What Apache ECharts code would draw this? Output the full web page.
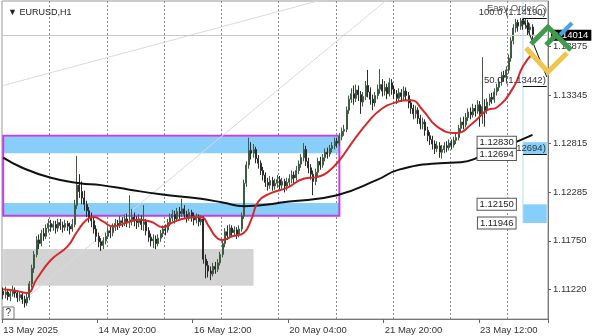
<!DOCTYPE html>
<html><head><meta charset="utf-8">
<script src="https://cdn.jsdelivr.net/npm/echarts@6/dist/echarts.min.js"></script>
<style>html,body{margin:0;padding:0;background:#fff}#c{width:598px;height:336px}</style>
</head><body><div id="c"></div>
<script>
// [open, close, low, high] per H1 bar, 13 May 2025 04:00 onward
const candles = [
[1.1120,1.1116,1.1111,1.1124],[1.1116,1.1119,1.1112,1.1125],[1.1119,1.1114,1.1110,1.1122],[1.1114,1.1117,1.1109,1.1121],
[1.1117,1.1121,1.1114,1.1126],[1.1121,1.1118,1.1113,1.1124],[1.1118,1.1113,1.1108,1.1121],[1.1113,1.1116,1.1109,1.1120],
[1.1116,1.1111,1.1106,1.1119],[1.1111,1.1107,1.1102,1.1115],[1.1107,1.1113,1.1104,1.1117],[1.1113,1.1128,1.1110,1.1131],
[1.1128,1.1145,1.1124,1.1149],[1.1145,1.1160,1.1140,1.1164],[1.1160,1.1176,1.1157,1.1180],[1.1176,1.1172,1.1166,1.1182],
[1.1172,1.1183,1.1169,1.1187],[1.1183,1.1180,1.1175,1.1189],[1.1180,1.1189,1.1177,1.1193],[1.1189,1.1194,1.1184,1.1199],
[1.1194,1.1190,1.1185,1.1198],[1.1190,1.1193,1.1186,1.1197],[1.1193,1.1189,1.1183,1.1197],[1.1189,1.1195,1.1185,1.1199],
[1.1195,1.1192,1.1187,1.1199],[1.1192,1.1190,1.1184,1.1196],[1.1190,1.1194,1.1186,1.1198],[1.1194,1.1191,1.1186,1.1197],
[1.1191,1.1188,1.1182,1.1195],[1.1188,1.1193,1.1185,1.1199],[1.1193,1.1214,1.1190,1.1220],[1.1214,1.1236,1.1210,1.1268],
[1.1236,1.1229,1.1222,1.1248],[1.1229,1.1222,1.1215,1.1240],[1.1222,1.1215,1.1208,1.1230],[1.1215,1.1208,1.1201,1.1219],
[1.1208,1.1201,1.1195,1.1212],[1.1201,1.1197,1.1190,1.1206],[1.1197,1.1188,1.1183,1.1201],[1.1188,1.1180,1.1174,1.1192],
[1.1180,1.1174,1.1168,1.1184],[1.1174,1.1170,1.1164,1.1178],[1.1170,1.1175,1.1166,1.1179],[1.1175,1.1180,1.1171,1.1184],
[1.1180,1.1186,1.1177,1.1190],[1.1186,1.1184,1.1178,1.1191],[1.1184,1.1190,1.1180,1.1194],[1.1190,1.1194,1.1186,1.1199],
[1.1194,1.1192,1.1187,1.1198],[1.1192,1.1197,1.1189,1.1202],[1.1197,1.1195,1.1190,1.1201],[1.1195,1.1199,1.1191,1.1204],
[1.1199,1.1196,1.1190,1.1205],[1.1196,1.1198,1.1189,1.1225],[1.1198,1.1201,1.1192,1.1210],[1.1201,1.1197,1.1191,1.1206],
[1.1197,1.1195,1.1188,1.1202],[1.1195,1.1199,1.1190,1.1204],[1.1199,1.1193,1.1187,1.1203],[1.1193,1.1196,1.1186,1.1214],
[1.1196,1.1186,1.1181,1.1199],[1.1186,1.1179,1.1174,1.1190],[1.1179,1.1175,1.1169,1.1183],[1.1175,1.1177,1.1167,1.1182],
[1.1177,1.1172,1.1166,1.1181],[1.1172,1.1178,1.1169,1.1182],[1.1178,1.1183,1.1174,1.1187],[1.1183,1.1188,1.1179,1.1192],
[1.1188,1.1187,1.1181,1.1193],[1.1187,1.1195,1.1184,1.1199],[1.1195,1.1200,1.1191,1.1205],[1.1200,1.1204,1.1196,1.1209],
[1.1204,1.1199,1.1194,1.1208],[1.1199,1.1207,1.1196,1.1211],[1.1207,1.1205,1.1199,1.1212],[1.1205,1.1210,1.1201,1.1221],
[1.1210,1.1204,1.1199,1.1214],[1.1204,1.1200,1.1195,1.1208],[1.1200,1.1206,1.1197,1.1210],[1.1206,1.1202,1.1196,1.1209],
[1.1202,1.1198,1.1192,1.1206],[1.1198,1.1201,1.1194,1.1205],[1.1201,1.1196,1.1191,1.1204],[1.1196,1.1199,1.1192,1.1203],
[1.1199,1.1155,1.1150,1.1202],[1.1155,1.1148,1.1134,1.1160],[1.1148,1.1142,1.1135,1.1153],[1.1142,1.1139,1.1132,1.1147],
[1.1139,1.1147,1.1136,1.1151],[1.1147,1.1144,1.1139,1.1152],[1.1144,1.1151,1.1141,1.1155],[1.1151,1.1160,1.1148,1.1163],
[1.1160,1.1172,1.1157,1.1176],[1.1172,1.1185,1.1168,1.1189],[1.1185,1.1181,1.1176,1.1192],[1.1181,1.1189,1.1178,1.1193],
[1.1189,1.1184,1.1179,1.1192],[1.1184,1.1187,1.1180,1.1191],[1.1187,1.1182,1.1177,1.1190],[1.1182,1.1188,1.1179,1.1192],
[1.1188,1.1202,1.1185,1.1206],[1.1202,1.1238,1.1199,1.1242],[1.1238,1.1258,1.1234,1.1262],[1.1258,1.1274,1.1254,1.1288],
[1.1274,1.1271,1.1264,1.1283],[1.1271,1.1275,1.1266,1.1281],[1.1275,1.1265,1.1260,1.1278],[1.1265,1.1260,1.1254,1.1269],
[1.1260,1.1252,1.1247,1.1263],[1.1252,1.1247,1.1241,1.1256],[1.1247,1.1239,1.1234,1.1250],[1.1239,1.1236,1.1230,1.1244],
[1.1236,1.1241,1.1232,1.1246],[1.1241,1.1235,1.1230,1.1245],[1.1235,1.1238,1.1231,1.1243],[1.1238,1.1242,1.1233,1.1247],
[1.1242,1.1236,1.1231,1.1246],[1.1236,1.1240,1.1232,1.1244],[1.1240,1.1235,1.1228,1.1243],[1.1235,1.1239,1.1230,1.1244],
[1.1239,1.1243,1.1234,1.1248],[1.1243,1.1247,1.1238,1.1252],[1.1247,1.1244,1.1238,1.1251],[1.1244,1.1252,1.1241,1.1257],
[1.1252,1.1259,1.1248,1.1263],[1.1259,1.1266,1.1255,1.1270],[1.1266,1.1275,1.1262,1.1282],[1.1275,1.1262,1.1257,1.1279],
[1.1262,1.1255,1.1249,1.1266],[1.1255,1.1248,1.1242,1.1259],[1.1248,1.1240,1.1225,1.1252],[1.1240,1.1250,1.1236,1.1254],
[1.1250,1.1262,1.1246,1.1266],[1.1262,1.1258,1.1253,1.1267],[1.1258,1.1266,1.1255,1.1270],[1.1266,1.1272,1.1262,1.1276],
[1.1272,1.1270,1.1265,1.1277],[1.1270,1.1276,1.1267,1.1280],[1.1276,1.1279,1.1272,1.1283],[1.1279,1.1284,1.1275,1.1288],
[1.1284,1.1282,1.1277,1.1288],[1.1282,1.1289,1.1279,1.1293],[1.1289,1.1295,1.1285,1.1299],[1.1295,1.1297,1.1290,1.1302],
[1.1297,1.1318,1.1294,1.1322],[1.1318,1.1330,1.1314,1.1334],[1.1330,1.1336,1.1326,1.1342],[1.1336,1.1331,1.1324,1.1345],
[1.1331,1.1340,1.1327,1.1346],[1.1340,1.1335,1.1328,1.1345],[1.1335,1.1327,1.1314,1.1339],[1.1327,1.1333,1.1322,1.1338],
[1.1333,1.1345,1.1329,1.1350],[1.1345,1.1338,1.1332,1.1362],[1.1338,1.1330,1.1324,1.1343],[1.1330,1.1326,1.1318,1.1335],
[1.1326,1.1334,1.1322,1.1338],[1.1334,1.1341,1.1330,1.1346],[1.1341,1.1346,1.1336,1.1363],[1.1346,1.1339,1.1333,1.1352],
[1.1339,1.1343,1.1334,1.1350],[1.1343,1.1336,1.1330,1.1347],[1.1336,1.1348,1.1333,1.1353],[1.1348,1.1341,1.1335,1.1352],
[1.1341,1.1336,1.1330,1.1345],[1.1336,1.1331,1.1325,1.1340],[1.1331,1.1337,1.1327,1.1342],[1.1337,1.1333,1.1327,1.1341],
[1.1333,1.1339,1.1329,1.1344],[1.1339,1.1334,1.1328,1.1343],[1.1334,1.1326,1.1320,1.1338],[1.1326,1.1320,1.1314,1.1330],
[1.1320,1.1314,1.1308,1.1324],[1.1314,1.1318,1.1309,1.1323],[1.1318,1.1309,1.1303,1.1321],[1.1309,1.1303,1.1297,1.1313],
[1.1303,1.1305,1.1297,1.1310],[1.1305,1.1296,1.1290,1.1308],[1.1296,1.1290,1.1284,1.1300],[1.1290,1.1286,1.1280,1.1294],
[1.1286,1.1281,1.1275,1.1290],[1.1281,1.1276,1.1270,1.1285],[1.1276,1.1279,1.1272,1.1284],[1.1279,1.1272,1.1266,1.1283],
[1.1272,1.1275,1.1265,1.1280],[1.1275,1.1279,1.1271,1.1283],[1.1279,1.1277,1.1272,1.1284],[1.1277,1.1282,1.1274,1.1286],
[1.1282,1.1280,1.1275,1.1286],[1.1280,1.1285,1.1277,1.1289],[1.1285,1.1288,1.1281,1.1293],[1.1288,1.1298,1.1285,1.1302],
[1.1298,1.1305,1.1294,1.1310],[1.1305,1.1302,1.1297,1.1311],[1.1302,1.1310,1.1299,1.1315],[1.1310,1.1316,1.1306,1.1320],
[1.1316,1.1313,1.1308,1.1321],[1.1313,1.1320,1.1310,1.1325],[1.1320,1.1317,1.1311,1.1324],[1.1317,1.1324,1.1314,1.1329],
[1.1324,1.1314,1.1300,1.1328],[1.1314,1.1322,1.1303,1.1376],[1.1322,1.1318,1.1300,1.1330],[1.1318,1.1327,1.1314,1.1331],
[1.1327,1.1332,1.1323,1.1336],[1.1332,1.1330,1.1325,1.1337],[1.1330,1.1338,1.1326,1.1342],[1.1338,1.1343,1.1334,1.1347],
[1.1343,1.1349,1.1339,1.1353],[1.1349,1.1356,1.1345,1.1360],[1.1356,1.1354,1.1349,1.1361],[1.1354,1.1362,1.1350,1.1366],
[1.1362,1.1375,1.1358,1.1379],[1.1375,1.1394,1.1371,1.1398],[1.1394,1.1408,1.1390,1.1412],[1.1408,1.1414,1.1403,1.1418],
[1.1414,1.1410,1.1404,1.1417],[1.1410,1.1416,1.1406,1.1419],[1.1416,1.1412,1.1406,1.1418],[1.1412,1.1414,1.1407,1.1418],
[1.1414,1.1406,1.1400,1.1417],[1.1406,1.1409,1.1401,1.1413],[1.1409,1.1401,1.1396,1.1412]
];
const slotCount = 229; // bar slots incl. chart shift on the right
const xTickIdx = [0, 40, 80, 120, 160, 200];
const xTickText = ['13 May 2025', '14 May 20:00', '16 May 12:00', '20 May 04:00', '21 May 20:00', '23 May 12:00'];
const daySepIdx = [20, 44, 68, 92, 116, 140, 164, 188, 212];
const yTicks = [1.11220, 1.11750, 1.12285, 1.12815, 1.13345, 1.13875];
const yMin = 1.10895, yMax = 1.14375;

const maRed = [[0,1.1122],[6,1.1120],[10,1.1118],[14,1.1133],[20,1.1154],[27,1.1169],[31,1.1185],[35,1.1198],[38,1.1201],
[42,1.1196],[46,1.1191],[52,1.1195],[57,1.1198],[62,1.1196],[67,1.1190],[71,1.1195],[77,1.1200],[83,1.1201],[86,1.1192],
[89,1.1180],[92,1.1176],[96,1.1180],[101,1.1184],[104,1.1198],[107,1.1218],[112,1.1227],[119,1.1233],[126,1.1243],
[132,1.1245],[136,1.1250],[141,1.1263],[147,1.1285],[153,1.1305],[158,1.1318],[164,1.1326],[171,1.1329],[176,1.1318],
[182,1.1300],[190,1.1293],[197,1.1304],[203,1.1318],[207,1.1321],[214,1.1343],[218,1.1366],[222,1.1380]];
const maBlack = [[0,1.1266],[8,1.1255],[20,1.1244],[32,1.1238],[41,1.1236],[53,1.1231],[66,1.1226],[83,1.1221],[92,1.1217],
[101,1.1213],[120,1.1218],[140,1.1225],[157,1.1242],[166,1.1253],[183,1.1260],[192,1.1261],[200,1.1267],[214,1.1282],[222,1.1291]];

// zones: [fromIdx, toIdx, lowPrice, highPrice]
const zonesBlue = [[0,141,1.12708,1.12890],[0,141,1.12033,1.12164],[218,228,1.12694,1.12830],[218,228,1.11946,1.12150]];
const zoneGray = [0,105,1.11259,1.11661];
const zonePurple = [0,141,1.12025,1.12901];
const levelBoxIdx = 207;
const levelBoxes = [1.12830, 1.12694, 1.12150, 1.11946];
const trendLineA = [[0,1.1345],[134,1.1439]];
const trendLineB = [[7,1.1107],[161,1.1439]];
const fibDiag = [[218,1.14190],[228,1.13543]];
const fibRange = [218, 228];
const fibLevels = [[1.14190,'100.0 (1.14190)'],[1.13442,'50.0 (1.13442)'],[1.12694,'0.0 (1.12694)']];
const vLine = [[218,1.1437],[218,1.1194]];
const lastPrice = 1.14014;

const categories = [];
for (let i = 0; i < slotCount; i++) categories.push(String(i));
const FONT = 'Liberation Sans';
const blue = '#87cefa';

const chart = echarts.init(document.getElementById('c'), null, {renderer:'canvas'});
chart.setOption({
  animation: false,
  backgroundColor: '#fff',
  textStyle: {fontFamily: FONT},
  title: {text: '\u25BC EURUSD,H1', left: 3, top: 3, textStyle: {fontSize: 9, fontWeight: 'normal', color: '#222', fontFamily: FONT}},
  grid: {left: 2, right: 50, top: 1, bottom: 17, show: true, borderColor: '#999', borderWidth: 1},
  xAxis: {
    type: 'category', data: categories, boundaryGap: true,
    axisLine: {show: true, lineStyle: {color: '#777'}},
    axisTick: {show: true, interval: (i) => xTickIdx.includes(i), length: 4, lineStyle: {color: '#666'}},
    axisLabel: {interval: (i) => xTickIdx.includes(i), formatter: (v, i) => xTickText[xTickIdx.indexOf(i)] || '',
      align: 'left', color: '#333', fontSize: 9.5, margin: 6, fontFamily: FONT, hideOverlap: false},
    splitLine: {show: true, interval: (i) => daySepIdx.includes(i), lineStyle: {color: '#8a8a8a', type: [2, 2], width: 1}}
  },
  yAxis: {
    type: 'value', position: 'right', min: yMin, max: yMax,
    axisLine: {show: true, lineStyle: {color: '#777'}},
    axisTick: {show: true, customValues: yTicks, length: 3, lineStyle: {color: '#666'}},
    axisLabel: {customValues: yTicks, formatter: (v) => v.toFixed(5), color: '#333', fontSize: 9.5, margin: 5, fontFamily: FONT},
    splitLine: {show: false}
  },
  series: [
    {type: 'line', data: [], z: 1, silent: true,
      markArea: {silent: true, data: [
        ...zonesBlue.map(z => [{xAxis: z[0], yAxis: z[3], itemStyle: {color: blue}}, {xAxis: z[1], yAxis: z[2]}]),
        [{xAxis: zoneGray[0], yAxis: zoneGray[3], itemStyle: {color: '#d3d3d3'}}, {xAxis: zoneGray[1], yAxis: zoneGray[2]}],
        [{xAxis: zonePurple[0], yAxis: zonePurple[3], itemStyle: {color: 'rgba(0,0,0,0)', borderColor: '#c040e0', borderWidth: 2}}, {xAxis: zonePurple[1], yAxis: zonePurple[2]}]
      ]}},
    {type: 'line', data: trendLineA, symbol: 'none', z: 2, silent: true, lineStyle: {color: '#dadada', width: 1}},
    {type: 'line', data: trendLineB, symbol: 'none', z: 2, silent: true, lineStyle: {color: '#dadada', width: 1}},
    {type: 'line', data: vLine, symbol: 'none', z: 2, silent: true, lineStyle: {color: '#b5def5', width: 1}},
    {type: 'candlestick', data: candles, z: 3, barWidth: 1.5,
      itemStyle: {color: '#3d5c42', color0: '#2a2a2a', borderColor: '#3d5c42', borderColor0: '#2a2a2a', borderWidth: 1},
      markLine: {silent: true, symbol: 'none', data: [{yAxis: lastPrice}],
        lineStyle: {color: '#c8c8c8', type: 'solid', width: 1},
        label: {show: true, position: 'end', distance: 3, formatter: lastPrice.toFixed(5), backgroundColor: '#000', color: '#fff',
          fontSize: 9.5, padding: [1, 3, 0, 3], fontFamily: FONT}}},
    {type: 'line', data: maBlack, symbol: 'none', smooth: true, z: 4, silent: true, lineStyle: {color: '#111', width: 2}},
    {type: 'line', data: maRed, symbol: 'none', smooth: true, z: 4, silent: true, lineStyle: {color: '#d42a2a', width: 2}},
    {type: 'line', data: fibDiag, symbol: 'none', z: 5, silent: true, lineStyle: {color: '#111', width: 1},
      markLine: {silent: true, symbol: 'none', lineStyle: {color: '#111', type: 'solid', width: 1},
        data: fibLevels.map(f => [{coord: [fibRange[0], f[0]], label: {formatter: f[1]}}, {coord: [fibRange[1], f[0]]}]),
        label: {show: true, position: 'insideEndTop', distance: 1, color: '#333', fontSize: 9.5, fontFamily: FONT}},
      markPoint: {silent: true, symbol: 'rect', symbolSize: [0, 0],
        data: levelBoxes.map(v => ({coord: [levelBoxIdx, v], value: v.toFixed(5)})),
        label: {show: true, position: 'inside', formatter: (p) => p.value, color: '#222', fontSize: 9.5, fontFamily: FONT,
          backgroundColor: '#fff', borderColor: '#555', borderWidth: 1, padding: [1, 2, 0, 2]}}}
  ],
  graphic: [
    {type: 'text', left: 487, top: 3, z: 10, style: {text: 'Easy Order', fontSize: 9.5, fill: '#555', fontFamily: FONT}},
    {type: 'circle', shape: {cx: 541, cy: 10, r: 5}, z: 10, style: {fill: 'none', stroke: '#666', lineWidth: 1}},
    {type: 'polyline', shape: {points: [[531, 44], [548, 27], [571, 50]]}, z: 20, style: {stroke: '#3f9b4b', lineWidth: 5, fill: null}},
    {type: 'line', shape: {x1: 546, y1: 45, x2: 556, y2: 35}, z: 20, style: {stroke: '#3f9b4b', lineWidth: 5}},
    {type: 'line', shape: {x1: 560, y1: 35, x2: 572, y2: 23}, z: 21, style: {stroke: '#4aa3e6', lineWidth: 4}},
    {type: 'polyline', shape: {points: [[526, 48], [548, 72], [567, 53]]}, z: 20, style: {stroke: '#f0c64a', lineWidth: 5, fill: null}},
    {type: 'rect', shape: {x: 3, y: 307, width: 11, height: 12}, z: 10, style: {fill: '#fff', stroke: '#777', lineWidth: 1}},
    {type: 'text', left: 5.5, top: 308, z: 11, style: {text: '?', fontSize: 10, fill: '#333', fontFamily: FONT}}
  ]
});
</script></body></html>
